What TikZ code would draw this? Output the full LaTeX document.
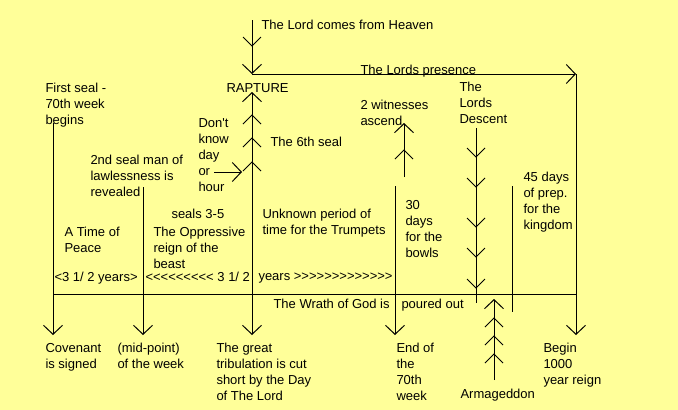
\documentclass[tikz,border=0pt]{standalone}
\usepackage{fontspec}
\setmainfont{Liberation Sans}[Ligatures=TeXOff]
\usepackage{xcolor}
\usepackage{tikz}
\usetikzlibrary{arrows.meta, positioning}
\definecolor{paleyellow}{HTML}{FFFF99}

\begin{document}
\begin{tikzpicture}[
        x=1pt, y=-1pt,
        line width=1pt,
        txt/.style={
            anchor=north west,
            inner sep=0pt,
            align=left,
            font=\fontsize{13}{16}\selectfont
        },
        arrowend/.style={-{Straight Barb[length=9pt, width=19pt]}},
        arrowboth/.style={{Straight Barb[length=9pt, width=19pt]}-{Straight Barb[length=9pt, width=19pt]}},
        chevdn/.pic={\draw (-9,-9) -- (0,0) -- (9,-9);},
        chevup/.pic={\draw (-9,9) -- (0,0) -- (9,9);}
    ]
        \fill[paleyellow] (0,0) rectangle (678,410);
        \useasboundingbox (0,0) rectangle (678,410);

        % end points of the time lines
        \coordinate (heaven) at (252,20);
        \coordinate (rapt) at (252,74);
        \coordinate (presend) at (576,74);
        \coordinate (reigndn) at (576,335);
        \coordinate (raptup) at (252,92);
        \coordinate (tribdn) at (252,335);
        \coordinate (ortail) at (214,172);
        \coordinate (orhead) at (242,172);
        \coordinate (covup) at (53,123);
        \coordinate (covdn) at (53,335);
        \coordinate (midup) at (143,187);
        \coordinate (middn) at (143,335);
        \coordinate (wrathl) at (53,294);
        \coordinate (wrathr) at (576,294);
        \coordinate (endup) at (395,186);
        \coordinate (enddn) at (395,335);
        \coordinate (witlo) at (404,177);
        \coordinate (withi) at (404,123);
        \coordinate (deschi) at (476,128);
        \coordinate (desclo) at (476,303);
        \coordinate (prephi) at (512,186);
        \coordinate (preplo) at (512,312);
        \coordinate (armlo) at (494,380);
        \coordinate (armhi) at (494,299);

        % lines
        \draw[arrowend] (heaven) -- (rapt);
        \pic at (252,46) {chevdn};
        \draw[arrowend] (rapt) -- (presend);
        \draw[arrowend] (presend) -- (reigndn);
        \draw[arrowboth] (raptup) -- (tribdn);
        \foreach \y in {115,138,162}
            \pic at (252,\y) {chevup};
        \draw[arrowend] (ortail) -- (orhead);
        \draw[arrowend] (covup) -- (covdn);
        \draw[arrowend] (midup) -- (middn);
        \draw (wrathl) -- (wrathr);
        \draw[arrowend] (endup) -- (enddn);
        \draw[arrowend] (witlo) -- (withi);
        \pic at (404,150) {chevup};
        \draw (deschi) -- (desclo);
        \foreach \y in {157,187,227,257,288}
            \pic at (476,\y) {chevdn};
        \draw (prephi) -- (preplo);
        \draw[arrowend] (armlo) -- (armhi);
        \foreach \y in {318,336,354}
            \pic at (494,\y) {chevup};

        % labels above the line
        \node[txt] (lordcomes) at (261,20) {The Lord comes from Heaven};
        \node[txt] (presence) at (360,65) {The Lords presence};
        \node[txt] (rapture) at (226,83) {RAPTURE};
        \node[txt] (seal1) at (45,83) {First seal -\\70th week\\begins};
        \node[txt] (dontknow) at (198,118) {Don't\\know\\day\\or\\hour};
        \node[txt] (sixth) at (270,137) {The 6th seal};
        \node[txt] (seal2) at (90,155) {2nd seal man of\\lawlessness is\\revealed};
        \node[txt] (witnesses) at (360,100) {2 witnesses\\ascend};
        \node[txt] (descent) at (459,82) {The\\Lords\\Descent};
        \node[txt] (prep) at (523,172) {45 days\\of prep.\\for the\\kingdom};
        \node[txt] (bowls) at (405,200) {30\\days\\for the\\bowls};
        \node[txt] (trumpets) at (262,209) {Unknown period of\\time for the Trumpets};
        \node[txt] (seals35) at (171,209) {seals 3-5};
        \node[txt] (oppress) at (153,227) {The Oppressive\\reign of the\\beast};
        \node[txt] (peace) at (64,227) {A Time of\\Peace};
        \node[txt] (yrsone) at (54,272) {<3 1/ 2 years>};
        \node[txt] (yrstwoa) at (145,272) {<<<<<<<<< 3 1/ 2};
        \node[txt] (yrstwob) at (258,272) {years >>>>>>>>>>>>>};

        % labels below the line
        \node[txt] (wrath) at (273,299) {The Wrath of God is};
        \node[txt] (poured) at (401,299) {poured out};
        \node[txt] (covenant) at (45,343) {Covenant\\is signed};
        \node[txt] (midpoint) at (117,343) {(mid-point)\\of the week};
        \node[txt] (tribulation) at (216,343) {The great\\tribulation is cut\\short by the Day\\of The Lord};
        \node[txt] (endweek) at (396,343) {End of\\the\\70th\\week};
        \node[txt] (armageddon) at (460,389) {Armageddon};
        \node[txt] (reign) at (543,343) {Begin\\1000\\year reign};
    \end{tikzpicture}
\end{document}
